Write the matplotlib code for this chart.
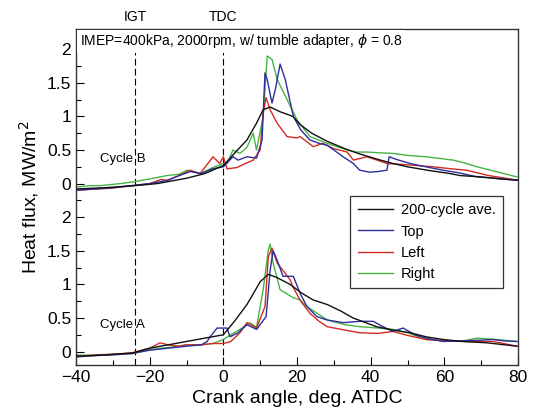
import numpy as np
import matplotlib
matplotlib.use('Agg')
from matplotlib import pyplot as plt
from matplotlib.ticker import MultipleLocator, FixedLocator

plt.rcParams['font.family'] = ['Liberation Sans', 'DejaVu Sans']

# offset of the upper panel (Cycle B) on the shared y axis
OFFSET_B = 2.5

# ---- Cycle B (upper) : crank angle [deg ATDC], heat flux [MW/m2] ----
b_ave_x = [-40, -32, -24, -18, -10, -5, 0, 3, 6.4, 9, 10.8, 12.7, 15.4, 18.9, 20.8, 24, 28.2, 33, 37.1, 42, 46, 50, 55.3, 61.5, 64.3, 70, 75, 80]
b_ave_y = [-0.08, -0.06, -0.03, 0.0, 0.08, 0.15, 0.27, 0.45, 0.65, 0.9, 1.1, 1.14, 1.07, 1.0, 0.88, 0.75, 0.63, 0.52, 0.44, 0.36, 0.3, 0.25, 0.2, 0.15, 0.12, 0.1, 0.07, 0.05]

b_top_x = [-40, -35, -30, -25, -20, -15, -12, -9, -6, -3, 0, 2.6, 4, 6.4, 9, 10.5, 11.3, 11.9, 13.2, 14.1, 15.4, 16.8, 19, 21, 23.5, 26, 28.2, 30, 32.5, 35.3, 37, 39.8, 42, 44.4, 45, 47, 50.7, 55, 59.6, 64, 68.9, 74, 80]
b_top_y = [-0.1, -0.08, -0.06, -0.03, 0.0, 0.05, 0.12, 0.18, 0.15, 0.22, 0.25, 0.4, 0.35, 0.4, 0.38, 0.65, 1.65, 1.55, 1.2, 1.4, 1.78, 1.55, 1.0, 0.8, 0.65, 0.6, 0.57, 0.5, 0.4, 0.3, 0.2, 0.17, 0.18, 0.2, 0.4, 0.36, 0.3, 0.25, 0.2, 0.16, 0.1, 0.08, 0.05]

b_left_x = [-40, -35, -30.8, -26, -20, -17, -15.3, -12, -9, -6.3, -2.8, -1, 0, 1, 3.7, 6, 8.1, 10, 10.8, 11.6, 12.7, 14.6, 17.3, 20, 20.8, 24.4, 27, 30, 33.6, 35.3, 39, 44.4, 50, 57, 62, 66, 72, 80]
b_left_y = [-0.1, -0.08, -0.07, -0.04, 0.0, 0.06, 0.05, 0.12, 0.2, 0.15, 0.4, 0.3, 0.4, 0.22, 0.24, 0.3, 0.35, 0.5, 1.05, 1.28, 1.1, 0.9, 0.7, 0.68, 0.7, 0.55, 0.6, 0.52, 0.47, 0.35, 0.4, 0.3, 0.28, 0.25, 0.22, 0.2, 0.12, 0.05]

b_right_x = [-40, -36, -33.5, -28, -24, -20, -15.3, -12, -9.9, -6.3, -2.8, 0, 1, 2.6, 4.5, 6.4, 8.1, 9, 10.8, 11.6, 11.9, 13.2, 14.6, 17.3, 20, 23.5, 28.2, 33.6, 36, 39, 42, 46, 50, 55, 58, 62.4, 66, 68.9, 74, 79.7]
b_right_y = [-0.05, -0.03, -0.03, 0.0, 0.03, 0.07, 0.12, 0.14, 0.2, 0.15, 0.24, 0.3, 0.3, 0.5, 0.45, 0.54, 0.75, 0.5, 1.0, 1.65, 1.9, 1.85, 1.55, 1.25, 0.95, 0.7, 0.6, 0.5, 0.47, 0.47, 0.46, 0.45, 0.42, 0.4, 0.38, 0.35, 0.3, 0.25, 0.18, 0.1]

# ---- Cycle A (lower) ----
a_ave_x = [-40, -32, -24.5, -20, -15, -10, -5, 0, 3, 6.4, 8, 10, 12.2, 14.6, 18.1, 21, 24.3, 28.2, 32, 35.2, 41.6, 46, 50.7, 55, 59.6, 65, 71.6, 79.7]
a_ave_y = [-0.07, -0.05, -0.02, 0.05, 0.1, 0.15, 0.2, 0.25, 0.45, 0.7, 0.85, 1.04, 1.15, 1.1, 1.0, 0.88, 0.77, 0.7, 0.6, 0.5, 0.37, 0.32, 0.28, 0.22, 0.18, 0.15, 0.13, 0.08]

a_top_x = [-40, -35, -30, -25, -20, -15, -10, -6, -4.4, -3.6, -1.7, 1, 1.8, 4, 6.4, 9, 11.6, 12.7, 13.5, 14.6, 16.2, 19, 20.8, 22.7, 25.4, 28.2, 32.6, 37, 40.7, 43, 46, 48.8, 52, 55, 59.6, 65, 70, 73.3, 76, 79.7]
a_top_y = [-0.08, -0.06, -0.05, -0.03, 0.02, 0.05, 0.08, 0.1, 0.15, 0.22, 0.35, 0.35, 0.22, 0.28, 0.4, 0.33, 0.52, 1.21, 1.5, 1.36, 1.12, 1.12, 0.87, 0.67, 0.52, 0.47, 0.43, 0.45, 0.45, 0.38, 0.3, 0.35, 0.25, 0.2, 0.15, 0.16, 0.17, 0.18, 0.16, 0.15]

a_left_x = [-40, -35, -30, -25, -20, -17.2, -15, -12, -10, -6, -3, 0, 2, 4.5, 6.4, 9, 11.3, 12.2, 13.2, 14.6, 18.1, 19, 21, 23.5, 26, 28.2, 33, 37, 42, 46, 50, 55, 60, 66, 73.3, 79.7]
a_left_y = [-0.07, -0.05, -0.04, -0.02, 0.05, 0.13, 0.1, 0.08, 0.1, 0.1, 0.12, 0.12, 0.15, 0.28, 0.43, 0.35, 0.67, 1.41, 1.54, 1.32, 1.07, 0.95, 0.75, 0.57, 0.45, 0.37, 0.32, 0.28, 0.27, 0.3, 0.24, 0.18, 0.16, 0.15, 0.15, 0.08]

a_right_x = [-40, -35, -30, -24.5, -20, -15, -10, -6.3, -2.8, 0, 2, 4.5, 7.2, 9, 10.8, 12.2, 12.7, 13.5, 15.4, 19, 20.8, 22.7, 28.2, 33, 37, 42, 46, 50, 55, 60, 64.3, 68.9, 74, 79.7]
a_right_y = [-0.05, -0.06, -0.04, -0.03, 0.03, 0.06, 0.1, 0.1, 0.12, 0.18, 0.25, 0.33, 0.43, 0.36, 0.92, 1.51, 1.6, 1.32, 0.92, 0.8, 0.77, 0.67, 0.47, 0.4, 0.37, 0.35, 0.33, 0.28, 0.18, 0.16, 0.15, 0.2, 0.18, 0.15]

labels = ['200-cycle ave.', 'Top', 'Left', 'Right']
colors = ['#111111', '#2e2e9c', '#d42a22', '#45b545']
ytick_labels = ['0', '0.5', '1', '1.5', '2']

fig = plt.figure(figsize=(5.33, 4.16), dpi=100)
ax = fig.add_axes([0.1426, 0.1226, 0.8294, 0.8074])

cycle_b = [(b_ave_x, b_ave_y), (b_top_x, b_top_y), (b_left_x, b_left_y), (b_right_x, b_right_y)]
cycle_a = [(a_ave_x, a_ave_y), (a_top_x, a_top_y), (a_left_x, a_left_y), (a_right_x, a_right_y)]

# draw coloured sensors first, average on top
for i in [3, 2, 1, 0]:
    xb, yb = cycle_b[i]
    ax.plot(xb, np.array(yb) + OFFSET_B, color=colors[i], lw=1.0, zorder=3 if i == 0 else 2)
    xa, ya = cycle_a[i]
    ax.plot(xa, ya, color=colors[i], lw=1.0, label=labels[i], zorder=3 if i == 0 else 2)

# IGT / TDC markers
for xv, name in [(-24, 'IGT'), (0, 'TDC')]:
    ax.axvline(xv, color='black', lw=0.8, ls=(0, (6, 3)), zorder=1)
    ax.text(xv, 1.015, name, transform=ax.get_xaxis_transform(), ha='center', va='bottom', fontsize=10)

ax.set_xlim(-40, 80)
ax.set_ylim(-0.2, 4.8)
ax.xaxis.set_major_locator(MultipleLocator(20))
ax.xaxis.set_minor_locator(MultipleLocator(10))

major = [0, 0.5, 1, 1.5, 2]
ax.yaxis.set_major_locator(FixedLocator(major + [v + OFFSET_B for v in major]))
ax.set_yticklabels(ytick_labels + ytick_labels)
ax.yaxis.set_minor_locator(FixedLocator(list(np.arange(0.25, 4.8, 0.5))))

ax.tick_params(which='both', direction='in', top=False, right=False, labelsize=12.5)
ax.tick_params(which='major', length=6, width=0.8)
ax.tick_params(which='minor', length=3.5, width=0.8)
for s in ax.spines.values():
    s.set_linewidth(1.0)
    s.set_color('#333333')

ax.set_xlabel('Crank angle, deg. ATDC', fontsize=14)
ax.set_ylabel('Heat flux, MW/m$^2$', fontsize=14)

ax.text(0.008, 0.99, 'IMEP=400kPa, 2000rpm, w/ tumble adapter, $\\phi$ = 0.8',
        transform=ax.transAxes, ha='left', va='top', fontsize=10, zorder=5,
        bbox=dict(facecolor='white', edgecolor='none', pad=1.5))
ax.text(-33.5, 0.37 + OFFSET_B, 'Cycle B', fontsize=9.5, va='center')
ax.text(-33.5, 0.4, 'Cycle A', fontsize=9.5, va='center')

handles, labs = ax.get_legend_handles_labels()
order = [labs.index(l) for l in labels]
leg = ax.legend([handles[k] for k in order], labels, loc='upper right',
                bbox_to_anchor=(0.982, 0.525), fontsize=10.5, handlelength=2.4,
                handletextpad=0.55, fancybox=False, framealpha=1, edgecolor='#333333',
                borderpad=0.5, labelspacing=0.5)
leg.get_frame().set_linewidth(0.9)

fig.savefig('out.png', dpi=100)
